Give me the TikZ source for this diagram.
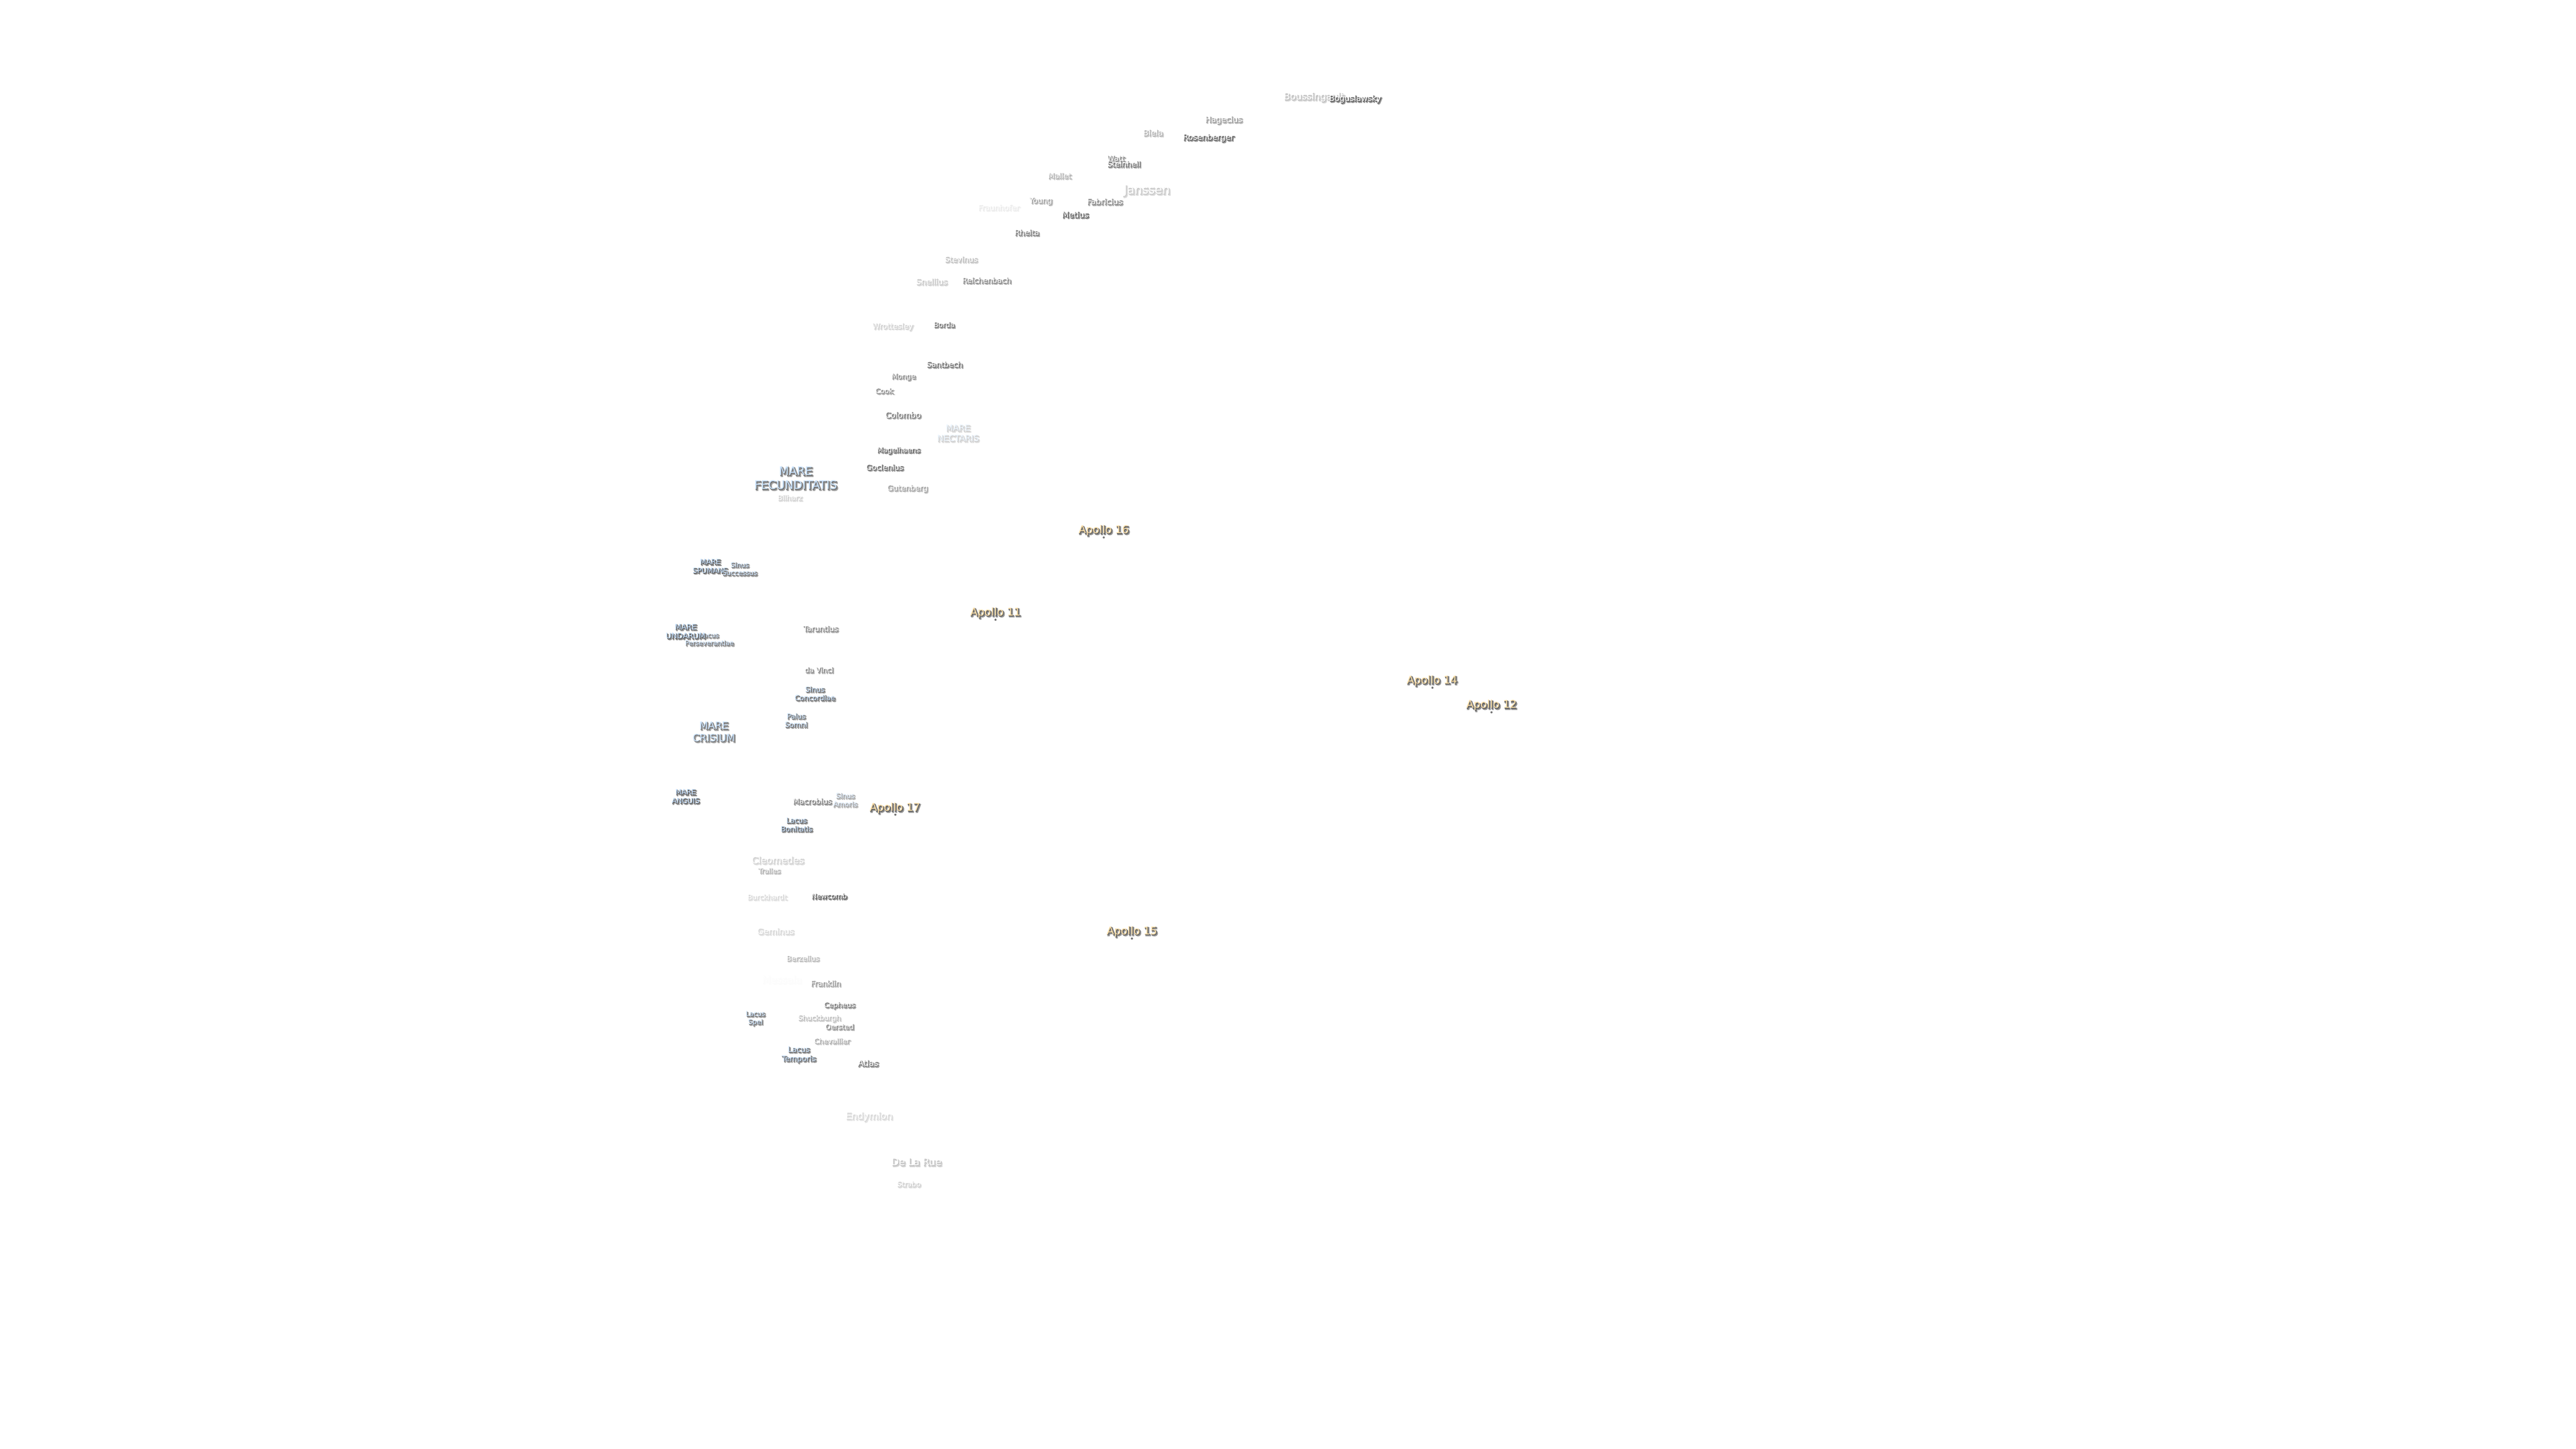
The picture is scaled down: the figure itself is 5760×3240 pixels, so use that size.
\documentclass[tikz,border=0pt]{standalone}
\usepackage{fontspec}
\setmainfont{DejaVu Sans}
\newfontfamily\fillfont{DejaVu Sans}
\newfontfamily\thinfont[FakeBold=4]{DejaVu Sans}
\newfontfamily\widefont[FakeBold=10]{DejaVu Sans}
\definecolor{seablue}{HTML}{C4E0FF}
\definecolor{sunbuff}{HTML}{FFE0A8}
\newlength{\pxsize}
\newcommand{\stacked}[1]{\begin{tabular}{@{}c@{}}#1\end{tabular}}
\newcommand{\layerbox}[5]{\rlap{\smash{\hspace{#1pt}\raisebox{#2pt}{\color{#3}#4\stacked{#5}}}}}
% name, x, y, size in px, strength in percent, fill colour, text
\newcommand{\lab}[7]{%
  \pgfmathtruncatemacro{\softpc}{#5*0.42}%
  \pgfmathtruncatemacro{\hardpc}{#5*0.62}%
  \colorlet{softtone}{black!\softpc!white}%
  \colorlet{hardtone}{black!\hardpc!white}%
  \colorlet{filltone}{#6!#5!white}%
  \node[lbl] (#1) at (#2,#3+1) {%
    \setlength{\pxsize}{#4pt}\divide\pxsize by 4
    \fontsize{\the\pxsize}{\the\dimexpr\pxsize*6/5\relax}\selectfont
    \layerbox{0.7}{-0.7}{softtone}{\widefont}{#7}%
    \layerbox{0.3}{-0.3}{hardtone}{\thinfont}{#7}%
    \color{filltone}\fillfont\stacked{#7}};}
\tikzset{
  lbl/.style={inner sep=0pt,outer sep=0pt},
  landing/.style={circle,inner sep=0pt,minimum size=1.2pt,fill=black!55,draw=none},
}
\begin{document}
\begin{tikzpicture}[x=0.25pt,y=-0.25pt]
\useasboundingbox (0,0) rectangle (5760,3240);
\fill[white] (0,0) rectangle (5760,3240);
\lab{boussingault}{2938}{217}{21}{40}{white}{Boussingault}
\lab{boguslawsky}{3030}{221}{18}{100}{white}{Boguslawsky}
\lab{hagecius}{2736}{268}{18}{62}{white}{Hagecius}
\lab{biela}{2578}{298}{18}{50}{white}{Biela}
\lab{rosenberger}{2702}{308}{18}{95}{white}{Rosenberger}
\lab{watt}{2495}{355}{17}{70}{white}{Watt}
\lab{steinheil}{2513}{368}{17}{85}{white}{Steinheil}
\lab{mallet}{2369}{394}{17}{50}{white}{Mallet}
\lab{janssen}{2564}{426}{27}{35}{white}{Janssen}
\lab{young}{2327}{449}{17}{58}{white}{Young}
\lab{fraunhofer}{2233}{465}{17}{14}{white}{Fraunhofer}
\lab{fabricius}{2470}{452}{18}{72}{white}{Fabricius}
\lab{metius}{2404}{481}{18}{100}{white}{Metius}
\lab{rheita}{2296}{521}{17}{80}{white}{Rheita}
\lab{stevinus}{2149}{581}{17}{40}{white}{Stevinus}
\lab{snellius}{2083}{631}{18}{35}{white}{Snellius}
\lab{reichenbach}{2206}{628}{17}{72}{white}{Reichenbach}
\lab{wrottesley}{1996}{730}{17}{30}{white}{Wrottesley}
\lab{borda}{2111}{727}{16}{85}{white}{Borda}
\lab{santbech}{2112}{816}{17}{85}{white}{Santbech}
\lab{monge}{2020}{842}{16}{72}{white}{Monge}
\lab{cook}{1977}{875}{16}{68}{white}{Cook}
\lab{colombo}{2019}{929}{18}{80}{white}{Colombo}
\lab{nectaris}{2142}{970}{19}{30}{seablue}{MARE\\NECTARIS}
\lab{magelhaens}{2009}{1007}{16}{95}{white}{Magelhaens}
\lab{goclenius}{1978}{1046}{17}{90}{white}{Goclenius}
\lab{gutenberg}{2029}{1092}{17}{58}{white}{Gutenberg}
\lab{fecunditatis}{1779}{1071}{26}{90}{seablue}{MARE\\FECUNDITATIS}
\lab{bilharz}{1766}{1114}{16}{30}{white}{Bilharz}
\lab{spumans}{1588}{1267}{16}{100}{seablue}{MARE\\SPUMANS}
\lab{successus}{1654}{1273}{15}{85}{seablue}{Sinus\\Successus}
\lab{perseverantiae}{1586}{1430}{14.5}{80}{seablue}{Lacus\\Perseverantiae}
\lab{undarum}{1533}{1413}{17}{100}{seablue}{MARE\\UNDARUM}
\lab{taruntius}{1835}{1407}{17}{72}{white}{Taruntius}
\lab{davinci}{1831}{1499}{16}{72}{white}{da Vinci}
\lab{concordiae}{1822}{1552}{16}{90}{seablue}{Sinus\\Concordiae}
\lab{somni}{1780}{1612}{16}{85}{seablue}{Palus\\Somni}
\lab{crisium}{1596}{1638}{22.5}{85}{seablue}{MARE\\CRISIUM}
\lab{anguis}{1533}{1782}{16}{100}{seablue}{MARE\\ANGUIS}
\lab{macrobius}{1816}{1793}{17}{78}{white}{Macrobius}
\lab{amoris}{1890}{1790}{15.5}{55}{seablue}{Sinus\\Amoris}
\lab{bonitatis}{1781}{1845}{16}{95}{seablue}{Lacus\\Bonitatis}
\lab{cleomedes}{1739}{1925}{21}{30}{white}{Cleomedes}
\lab{tralles}{1720}{1948}{15.5}{50}{white}{Tralles}
\lab{burckhardt}{1715}{2007}{16}{25}{white}{Burckhardt}
\lab{newcomb}{1854}{2005}{16}{100}{white}{Newcomb}
\lab{geminus}{1734}{2084}{18.5}{25}{white}{Geminus}
\lab{berzelius}{1795}{2144}{16}{45}{white}{Berzelius}
\lab{messala}{1748}{2192}{22}{3}{white}{Messala}
\lab{franklin}{1846}{2200}{17}{62}{white}{Franklin}
\lab{cepheus}{1877}{2248}{16}{80}{white}{Cepheus}
\lab{spei}{1689}{2277}{15}{85}{seablue}{Lacus\\Spei}
\lab{shuckburgh}{1832}{2277}{16}{40}{white}{Shuckburgh}
\lab{oersted}{1877}{2297}{16}{72}{white}{Oersted}
\lab{chevallier}{1860}{2329}{16}{50}{white}{Chevallier}
\lab{temporis}{1786}{2358}{17}{90}{seablue}{Lacus\\Temporis}
\lab{atlas}{1941}{2379}{18.5}{80}{white}{Atlas}
\lab{endymion}{1943}{2497}{21}{25}{white}{Endymion}
\lab{delarue}{2049}{2600}{22}{40}{white}{De La Rue}
\lab{strabo}{2032}{2649}{16}{30}{white}{Strabo}
\node[landing] (dot16) at (2468,1202) {};
\lab{apollo16}{2468}{1186}{24}{100}{sunbuff}{Apollo 16}
\node[landing] (dot11) at (2226,1386) {};
\lab{apollo11}{2226}{1370}{24}{100}{sunbuff}{Apollo 11}
\node[landing] (dot14) at (3203,1538) {};
\lab{apollo14}{3202}{1522}{24}{100}{sunbuff}{Apollo 14}
\node[landing] (dot12) at (3335,1593) {};
\lab{apollo12}{3335}{1577}{24}{100}{sunbuff}{Apollo 12}
\node[landing] (dot17) at (2002,1822) {};
\lab{apollo17}{2001}{1807}{24}{100}{sunbuff}{Apollo 17}
\node[landing] (dot15) at (2531,2099) {};
\lab{apollo15}{2531}{2083}{24}{100}{sunbuff}{Apollo 15}
\end{tikzpicture}
\end{document}
